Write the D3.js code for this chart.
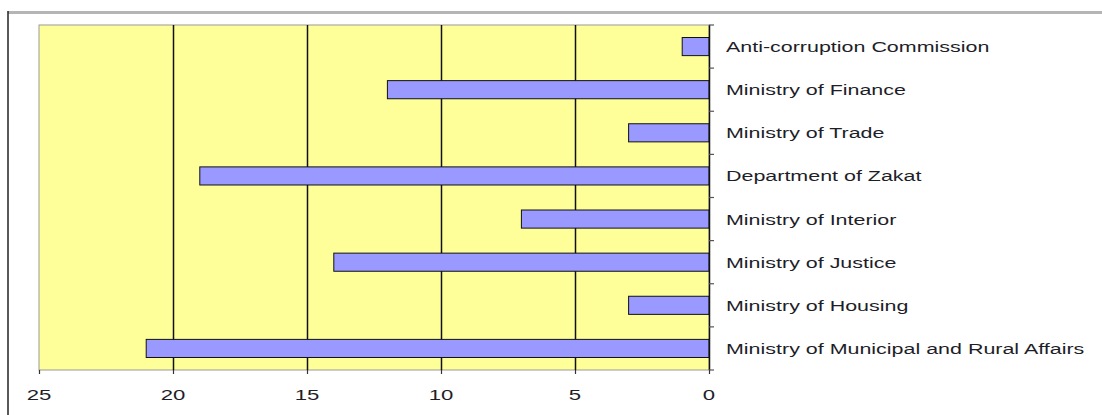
<!DOCTYPE html>
<html>
<head>
<meta charset="utf-8">
<script src="https://cdn.jsdelivr.net/npm/d3@7"></script>
<style>
  html, body { margin: 0; padding: 0; background: #fff; }
  svg { display: block; }
  text { font-family: "Liberation Sans", Arial, sans-serif; fill: #1e1e28; }
</style>
</head>
<body>
<svg id="chart" width="1102" height="415"></svg>
<script>
// Number of cases per agency
const categories = [
  "Anti-corruption Commission",
  "Ministry of Finance",
  "Ministry of Trade",
  "Department of Zakat",
  "Ministry of Interior",
  "Ministry of Justice",
  "Ministry of Housing",
  "Ministry of Municipal and Rural Affairs"
];
const values = [1, 12, 3, 19, 7, 14, 3, 21];
const xTicks = [25, 20, 15, 10, 5, 0];

const svg = d3.select("#chart");
const plot = { left: 39, right: 709, top: 25, bottom: 370 };
const stretch = 1.43; // wide lettering

// Frame lines
svg.append("line").attr("x1", 8).attr("x2", 1102).attr("y1", 12.5).attr("y2", 12.5)
  .attr("stroke", "#b5b5b5").attr("stroke-width", 3);
svg.append("line").attr("x1", 8).attr("x2", 8).attr("y1", 11).attr("y2", 415)
  .attr("stroke", "#222").attr("stroke-width", 1.5);

// Reversed value axis: 25 on the left, 0 on the right
const x = d3.scaleLinear().domain([25, 0]).range([plot.left, plot.right]);
const y = d3.scaleBand().domain(categories).range([plot.top, plot.bottom]).paddingInner(0.58).paddingOuter(0.29);

// Plot background
svg.append("rect")
  .attr("x", plot.left).attr("y", plot.top)
  .attr("width", plot.right - plot.left).attr("height", plot.bottom - plot.top)
  .attr("fill", "#ffff99").attr("stroke", "#999").attr("stroke-width", 1);

// Vertical gridlines
svg.append("g").selectAll("line")
  .data(xTicks.filter(t => t !== 25 && t !== 0))
  .join("line")
  .attr("x1", d => Math.round(x(d)) + 0.5).attr("x2", d => Math.round(x(d)) + 0.5)
  .attr("y1", plot.top).attr("y2", plot.bottom)
  .attr("stroke", "#111").attr("stroke-width", 1.5);

// Bars, growing leftwards from zero
svg.append("g").selectAll("rect")
  .data(values)
  .join("rect")
  .attr("x", d => x(d))
  .attr("y", (d, i) => y(categories[i]))
  .attr("width", d => x(0) - x(d))
  .attr("height", y.bandwidth())
  .attr("fill", "#9999ff")
  .attr("stroke", "#111").attr("stroke-width", 1);

// Category axis on the right: ticks at band boundaries
const step = (plot.bottom - plot.top) / categories.length;
const catAxis = svg.append("g");
catAxis.append("line")
  .attr("x1", plot.right + 0.5).attr("x2", plot.right + 0.5)
  .attr("y1", plot.top).attr("y2", plot.bottom)
  .attr("stroke", "#111").attr("stroke-width", 1.5);
catAxis.selectAll("line.tick")
  .data(d3.range(categories.length + 1))
  .join("line").attr("class", "tick")
  .attr("x1", plot.right).attr("x2", plot.right + 5)
  .attr("y1", i => plot.top + i * step).attr("y2", i => plot.top + i * step)
  .attr("stroke", "#555").attr("stroke-width", 1.2);
catAxis.selectAll("text")
  .data(categories)
  .join("text")
  .attr("transform", d => `translate(${plot.right + 17},${y(d) + y.bandwidth() / 2 + 5.5}) scale(${stretch},1)`)
  .attr("font-size", 15)
  .text(d => d);

// Value axis along the bottom
const valAxis = svg.append("g");
valAxis.selectAll("line")
  .data(xTicks)
  .join("line")
  .attr("x1", d => Math.round(x(d)) + 0.5).attr("x2", d => Math.round(x(d)) + 0.5)
  .attr("y1", plot.bottom).attr("y2", plot.bottom + 4)
  .attr("stroke", "#333").attr("stroke-width", 1.2);
valAxis.selectAll("text")
  .data(xTicks)
  .join("text")
  .attr("transform", d => `translate(${x(d)},400) scale(${stretch},1)`)
  .attr("text-anchor", "middle")
  .attr("font-size", 15.5)
  .text(d => d);
</script>
</body>
</html>
